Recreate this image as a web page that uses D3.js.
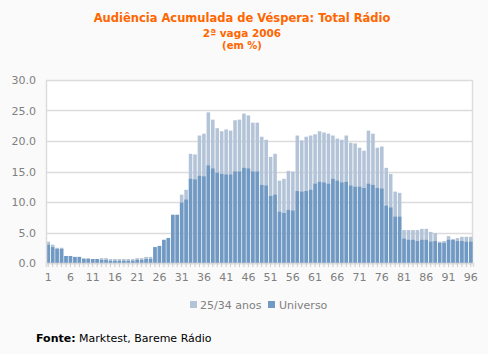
<!DOCTYPE html>
<html>
<head>
<meta charset="utf-8">
<script src="https://cdn.jsdelivr.net/npm/d3@7"></script>
<style>
  body { margin: 0; background: #fafafa; }
  svg text { font-family: "DejaVu Sans", Verdana, sans-serif; }
</style>
</head>
<body>
<div id="chart"></div>
<script>
// quarter-hour slots 1..96
var slots = d3.range(1, 97);

// 25/34 anos (light, drawn behind)
var jovens = [3.5, 3.0, 2.5, 2.5, 1.15, 1.15, 1.0, 1.0, 0.8, 0.8,
  0.65, 0.65, 0.8, 0.8, 0.65, 0.65, 0.65, 0.65, 0.65, 0.65,
  0.8, 0.8, 1.0, 1.0, 2.6, 2.8, 3.8, 4.1, 7.9, 7.9,
  11.2, 12.0, 17.9, 17.8, 20.9, 21.2, 24.7, 23.5, 22.1, 21.6,
  21.9, 21.7, 23.4, 23.5, 24.5, 24.2, 23.0, 23.0, 20.7, 20.2,
  17.4, 17.9, 13.5, 13.8, 15.1, 15.0, 20.9, 20.1, 20.7, 20.9,
  21.1, 21.6, 21.4, 21.2, 20.9, 20.4, 20.2, 20.9, 19.7, 19.6,
  18.9, 18.4, 21.7, 21.2, 18.9, 19.1, 15.6, 14.6, 11.7, 11.5,
  5.4, 5.4, 5.4, 5.4, 5.6, 5.6, 5.1, 4.9, 3.5, 3.6,
  4.4, 3.9, 4.1, 4.3, 4.3, 4.3];

// Universo (dark, drawn in front)
var universo = [3.0, 2.6, 2.3, 2.3, 1.15, 1.15, 1.0, 1.0, 0.65, 0.65,
  0.65, 0.65, 0.5, 0.5, 0.35, 0.35, 0.35, 0.35, 0.35, 0.35,
  0.5, 0.5, 0.65, 0.65, 2.6, 2.8, 3.8, 4.1, 7.9, 7.9,
  9.9, 10.4, 13.8, 13.7, 14.3, 14.2, 16.0, 15.5, 14.8, 14.6,
  14.5, 14.5, 15.0, 15.0, 15.6, 15.5, 15.0, 15.0, 12.8, 12.7,
  11.0, 11.2, 8.4, 8.2, 8.7, 8.6, 11.8, 11.7, 11.8, 12.0,
  13.0, 13.3, 13.2, 13.0, 13.8, 13.5, 13.2, 13.3, 12.7, 12.5,
  12.5, 12.3, 13.0, 12.8, 12.3, 12.2, 9.4, 9.1, 7.6, 7.6,
  4.0, 3.8, 3.8, 3.6, 3.8, 3.8, 3.5, 3.6, 3.3, 3.3,
  3.8, 3.8, 3.6, 3.6, 3.5, 3.5];

var yTicks = [0, 5, 10, 15, 20, 25, 30];
var xLabels = d3.range(1, 97, 5);

var W = 488, H = 354;
var m = {top: 80, right: 15, bottom: 91, left: 46};
var w = W - m.left - m.right;
var h = H - m.top - m.bottom;

var light = "#b4c4d8", dark = "#7099c4";

var svg = d3.select("#chart").append("svg")
  .attr("width", W).attr("height", H);

// titles
svg.append("text").attr("x", 242).attr("y", 22).attr("text-anchor", "middle")
  .attr("fill", "#ff6600").attr("font-weight", "bold").attr("font-size", 11.5)
  .text("Audiência Acumulada de Véspera: Total Rádio");
svg.append("text").attr("x", 242).attr("y", 37).attr("text-anchor", "middle")
  .attr("fill", "#ff6600").attr("font-weight", "bold").attr("font-size", 10.5)
  .text("2ª vaga 2006");
svg.append("text").attr("x", 242).attr("y", 49).attr("text-anchor", "middle")
  .attr("fill", "#ff6600").attr("font-weight", "bold").attr("font-size", 10)
  .text("(em %)");

var g = svg.append("g").attr("transform", "translate(" + m.left + "," + m.top + ")");

var x = d3.scaleBand().domain(slots).range([0, w]).paddingInner(0.2).paddingOuter(0.1);
var y = d3.scaleLinear().domain([0, 30]).range([h, 0]);

g.append("rect").attr("width", w).attr("height", h).attr("fill", "#fff");

// gridlines
g.selectAll(".grid").data(yTicks).enter().append("line")
  .attr("x1", 0).attr("x2", w)
  .attr("y1", function (d) { return Math.round(y(d)) + 0.5; })
  .attr("y2", function (d) { return Math.round(y(d)) + 0.5; })
  .attr("stroke", "#dcdcdc").attr("stroke-width", 1.5);

// right border
g.append("line").attr("x1", w - 0.5).attr("x2", w - 0.5).attr("y1", 0).attr("y2", h)
  .attr("stroke", "#dcdcdc").attr("stroke-width", 1.5);

// bars
g.selectAll(".b1").data(jovens).enter().append("rect")
  .attr("x", function (d, i) { return x(slots[i]); })
  .attr("width", x.bandwidth())
  .attr("y", function (d) { return y(d); })
  .attr("height", function (d) { return h - y(d); })
  .attr("fill", light);
g.selectAll(".b2").data(universo).enter().append("rect")
  .attr("x", function (d, i) { return x(slots[i]); })
  .attr("width", x.bandwidth())
  .attr("y", function (d) { return y(d); })
  .attr("height", function (d) { return h - y(d); })
  .attr("fill", dark);

// y axis
var yAxis = g.append("g").call(d3.axisLeft(y).tickValues(yTicks)
  .tickFormat(d3.format(".1f")).tickSize(0).tickPadding(10));
yAxis.select(".domain").attr("stroke", "#dcdcdc").attr("stroke-width", 1.5);
yAxis.selectAll("text").attr("fill", "#808080").attr("font-size", 11)
  .attr("font-family", "DejaVu Sans, sans-serif");

// x axis
var xAxis = g.append("g").attr("transform", "translate(0," + h + ")")
  .call(d3.axisBottom(x).tickSize(4).tickPadding(6)
    .tickFormat(function (d) { return xLabels.indexOf(d) >= 0 ? d : ""; }));
xAxis.select(".domain").attr("stroke", "#dcdcdc").attr("stroke-width", 1.5);
xAxis.selectAll(".tick line").attr("stroke", "#cccccc");
xAxis.selectAll("text").attr("fill", "#808080").attr("font-size", 11)
  .attr("font-family", "DejaVu Sans, sans-serif");

// legend
var leg = svg.append("g").attr("transform", "translate(190,301)");
leg.append("rect").attr("width", 7).attr("height", 7).attr("fill", light);
leg.append("text").attr("x", 10).attr("y", 7.5).attr("fill", "#808080").attr("font-size", 11)
  .text("25/34 anos");
leg.append("rect").attr("x", 78).attr("width", 7).attr("height", 7).attr("fill", dark);
leg.append("text").attr("x", 89).attr("y", 7.5).attr("fill", "#808080").attr("font-size", 11)
  .text("Universo");

// source
var src = svg.append("text").attr("x", 36).attr("y", 342).attr("fill", "#000").attr("font-size", 11);
src.append("tspan").attr("font-weight", "bold").text("Fonte:");
src.append("tspan").text(" Marktest, Bareme Rádio");
</script>
</body>
</html>
